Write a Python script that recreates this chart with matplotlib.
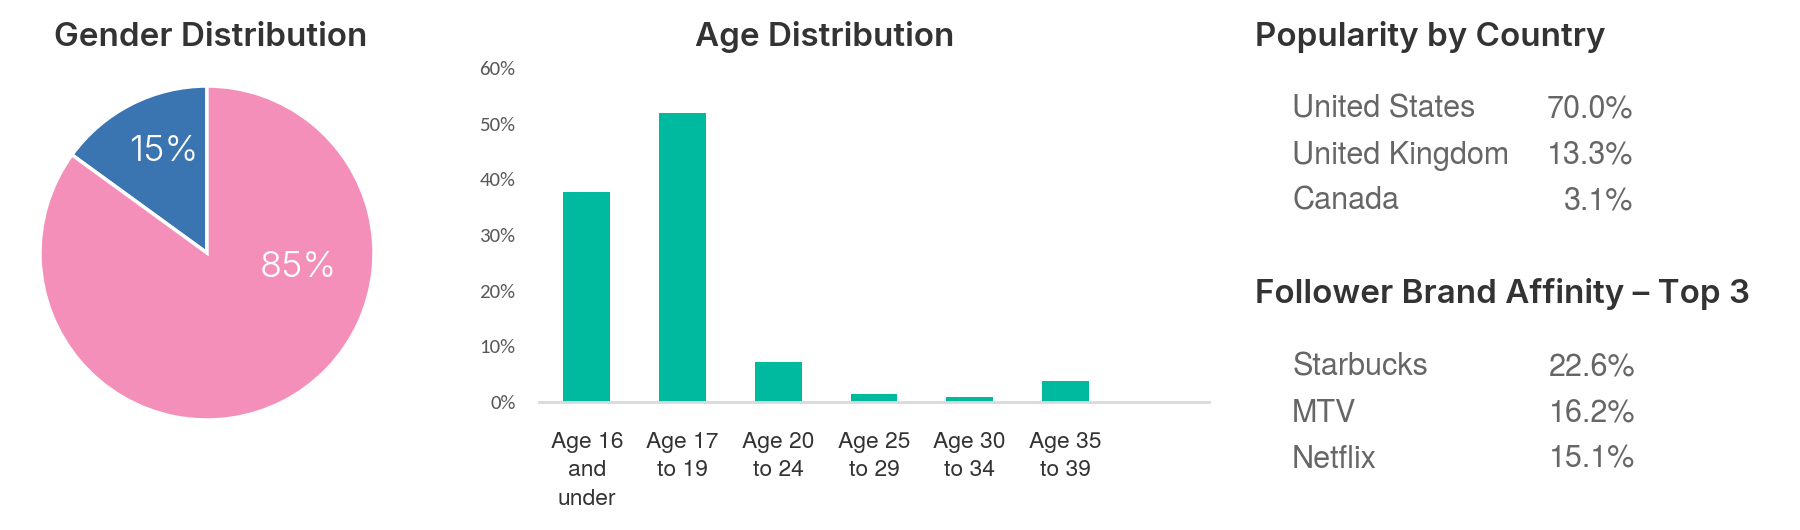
import matplotlib
matplotlib.use('Agg')
import matplotlib.pyplot as plt
import numpy as np

# data
gender_labels = ['Male', 'Female']
gender_share = [15, 85]
gender_colors = ['#3A75B2', '#F48FBA']

age_groups = ['Age 16\nand\nunder', 'Age 17\nto 19', 'Age 20\nto 24',
              'Age 25\nto 29', 'Age 30\nto 34', 'Age 35\nto 39']
age_share = [37.7, 52.0, 7.2, 1.5, 0.9, 3.7]

countries = ['United States', 'United Kingdom', 'Canada']
country_share = [70.0, 13.3, 3.1]

brands = ['Starbucks', 'MTV', 'Netflix']
brand_share = [22.6, 16.2, 15.1]

W, H = 1800, 530
def fx(px):
    return px / W
def fy(py):
    return 1 - py / H

TITLE = dict(family='Inter', fontweight=600, fontsize=23.9, color='#333333')
BODY = dict(family='TeX Gyre Heros', fontsize=22, color='#666666')

fig = plt.figure(figsize=(18, 5.3), dpi=100)

# --- gender pie ---
ax_pie = fig.add_axes([fx(40), fy(420), 334 / W, 334 / H])
ax_pie.pie(gender_share, colors=gender_colors, startangle=90, counterclock=True,
           wedgeprops=dict(edgecolor='white', linewidth=2.5))
ax_pie.set_xlim(-1, 1)
ax_pie.set_ylim(-1, 1)
ax_pie.set_aspect('equal')
ax_pie.axis('off')
label_pos = [(-0.26, 0.605), (0.55, -0.085)]
for share, (x, y) in zip(gender_share, label_pos):
    ax_pie.text(x, y, f'{share}%', ha='center', va='center', color='white',
                family='Inter', fontweight=300, fontsize=26)
fig.text(fx(210.5), fy(45.7), 'Gender Distribution', ha='center', va='baseline', **TITLE)

# --- age bars ---
ax_bar = fig.add_axes([fx(539), fy(402), 670 / W, 334 / H])
x = np.arange(len(age_groups))
ax_bar.bar(x, age_share, width=0.49, color='#00BA9F')
ax_bar.set_xlim(-0.5, 6.5)
ax_bar.set_ylim(0, 60)
ax_bar.set_yticks(range(0, 61, 10))
ax_bar.set_yticklabels([f'{v}%' for v in range(0, 61, 10)],
                       family='Carlito', fontsize=15, color='#595959')
ax_bar.set_xticks(x)
ax_bar.set_xticklabels(age_groups, family='TeX Gyre Heros', fontsize=16.5,
                       color='#333333', linespacing=1.46, va='top')
ax_bar.tick_params(axis='y', length=0, pad=17)
ax_bar.tick_params(axis='x', length=0, pad=21.5)
for s in ['top', 'right', 'left']:
    ax_bar.spines[s].set_visible(False)
ax_bar.spines['bottom'].set_color('#D9D9D9')
ax_bar.spines['bottom'].set_linewidth(2)
fig.text(fx(824.6), fy(46), 'Age Distribution', ha='center', va='baseline', **TITLE)

# --- text tables ---
fig.text(fx(1255), fy(45.7), 'Popularity by Country', ha='left', va='baseline', **TITLE)
for i, (name, val) in enumerate(zip(countries, country_share)):
    yb = 118 + 46 * i
    fig.text(fx(1292), fy(yb), name, ha='left', va='baseline', **BODY)
    fig.text(fx(1633), fy(yb), f'{val:.1f}%', ha='right', va='baseline', **BODY)

fig.text(fx(1255), fy(302.7), 'Follower Brand Affinity \u2013 Top 3', ha='left', va='baseline', **TITLE)
for i, (name, val) in enumerate(zip(brands, brand_share)):
    yb = 375 + 46.5 * i
    fig.text(fx(1292), fy(yb), name, ha='left', va='baseline', **BODY)
    fig.text(fx(1635), fy(yb), f'{val:.1f}%', ha='right', va='baseline', **BODY)

fig.savefig('out.png', dpi=100, facecolor='white')
